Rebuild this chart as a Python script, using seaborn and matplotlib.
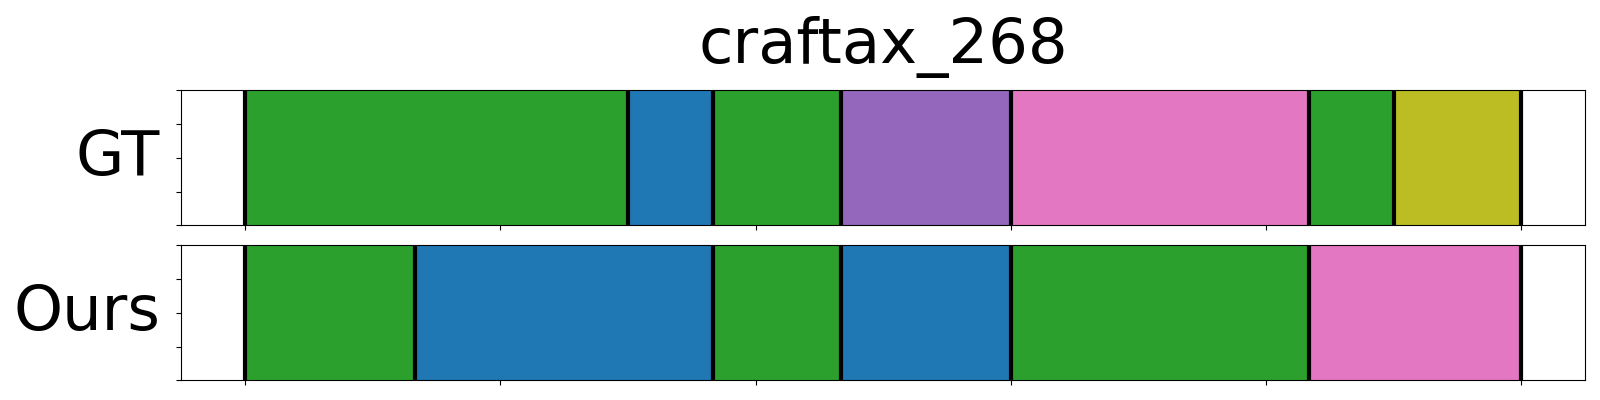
import numpy as np
import matplotlib
matplotlib.use("Agg")
import matplotlib.pyplot as plt
import seaborn as sns

# segment boundaries (in frames, out of n_frames) and tab10 action ids per segment
n_frames = 30
gt_bounds = [0, 9, 11, 14, 18, 25, 27, 30]
gt_actions = [2, 0, 2, 4, 6, 2, 8]
ours_bounds = [0, 4, 11, 14, 18, 25, 30]
ours_actions = [2, 0, 2, 0, 2, 6]

title = "craftax_268"
row_names = ["GT", "Ours"]

plt.rcParams['font.family'] = ['DejaVu Sans']
palette = sns.color_palette("tab10")

fig, axes = plt.subplots(2, 1, figsize=(16, 4), dpi=100, sharex=True)
fig.subplots_adjust(left=0.1133, right=0.9908, top=0.774, bottom=0.049, hspace=0.148)

for ax, name, bounds, actions in zip(axes, row_names,
                                     [gt_bounds, ours_bounds],
                                     [gt_actions, ours_actions]):
    b = np.array(bounds) / n_frames
    ax.barh(0.5, np.diff(b), left=b[:-1], height=1.0,
            color=[palette[a] for a in actions], edgecolor='none')
    ax.vlines(b, 0, 1, color='black', linewidth=3)
    ax.set_xlim(-0.05, 1.05)
    ax.set_ylim(0, 1)
    ax.tick_params(labelleft=False, labelbottom=False)
    ax.set_ylabel(name, rotation=0, fontsize=45, ha='right', va='center')
    ax.yaxis.set_label_coords(-0.015, 0.5)

axes[0].set_title(title, fontsize=45, pad=20)

plt.savefig("out.png")
